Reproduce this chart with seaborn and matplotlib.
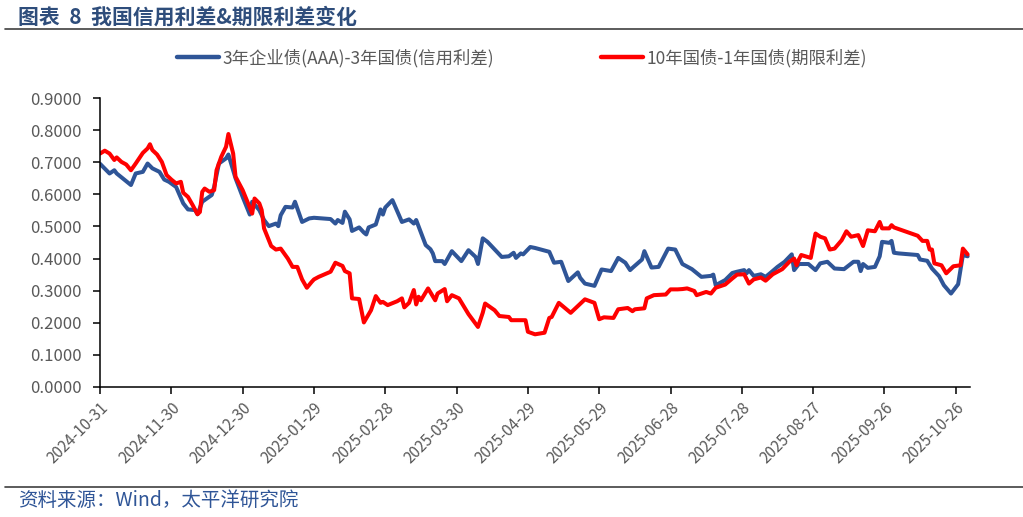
import pandas as pd
import seaborn as sns
import matplotlib.pyplot as plt
from matplotlib.lines import Line2D

# credit spread: 3y AAA corporate - 3y treasury
CREDIT_DATES = [
    "2024-10-31", "2024-11-04", "2024-11-06", "2024-11-07", "2024-11-13", "2024-11-15",
    "2024-11-18", "2024-11-20", "2024-11-22", "2024-11-25", "2024-11-27", "2024-11-29",
    "2024-12-02", "2024-12-05", "2024-12-07", "2024-12-10", "2024-12-11", "2024-12-13",
    "2024-12-17", "2024-12-18", "2024-12-20", "2024-12-23", "2024-12-24", "2024-12-27",
    "2024-12-30", "2025-01-02", "2025-01-03", "2025-01-06", "2025-01-08", "2025-01-10",
    "2025-01-13", "2025-01-14", "2025-01-15", "2025-01-17", "2025-01-20", "2025-01-21",
    "2025-01-22", "2025-01-24", "2025-01-27", "2025-01-29", "2025-02-05", "2025-02-07",
    "2025-02-08", "2025-02-10", "2025-02-11", "2025-02-13", "2025-02-14", "2025-02-17",
    "2025-02-19", "2025-02-20", "2025-02-21", "2025-02-24", "2025-02-26", "2025-02-27",
    "2025-02-28", "2025-03-03", "2025-03-07", "2025-03-10", "2025-03-12", "2025-03-13",
    "2025-03-17", "2025-03-19", "2025-03-20", "2025-03-21", "2025-03-24", "2025-03-25",
    "2025-03-28", "2025-04-01", "2025-04-04", "2025-04-07", "2025-04-08", "2025-04-10",
    "2025-04-12", "2025-04-18", "2025-04-21", "2025-04-23", "2025-04-24", "2025-04-26",
    "2025-04-27", "2025-04-30", "2025-05-02", "2025-05-08", "2025-05-10", "2025-05-13",
    "2025-05-16", "2025-05-20", "2025-05-21", "2025-05-23", "2025-05-27", "2025-05-30",
    "2025-06-03", "2025-06-06", "2025-06-09", "2025-06-11", "2025-06-12", "2025-06-16",
    "2025-06-17", "2025-06-20", "2025-06-23", "2025-06-27", "2025-06-30", "2025-07-03",
    "2025-07-07", "2025-07-11", "2025-07-15", "2025-07-16", "2025-07-17", "2025-07-21",
    "2025-07-24", "2025-07-26", "2025-07-29", "2025-07-30", "2025-07-31", "2025-08-02",
    "2025-08-05", "2025-08-07", "2025-08-09", "2025-08-12", "2025-08-15", "2025-08-18",
    "2025-08-19", "2025-08-21", "2025-08-25", "2025-08-28", "2025-08-30", "2025-09-02",
    "2025-09-05", "2025-09-09", "2025-09-13", "2025-09-15", "2025-09-16", "2025-09-17",
    "2025-09-19", "2025-09-22", "2025-09-24", "2025-09-25", "2025-09-28", "2025-09-29",
    "2025-09-30", "2025-10-02", "2025-10-10", "2025-10-11", "2025-10-14", "2025-10-16",
    "2025-10-19", "2025-10-21", "2025-10-24", "2025-10-27", "2025-10-29", "2025-10-31",
]
CREDIT_VALUES = [
    0.695, 0.665, 0.675, 0.665, 0.629, 0.665,
    0.670, 0.696, 0.681, 0.670, 0.646, 0.639,
    0.623, 0.572, 0.553, 0.551, 0.538, 0.577,
    0.598, 0.623, 0.696, 0.712, 0.724, 0.650,
    0.592, 0.537, 0.577, 0.551, 0.520, 0.501,
    0.509, 0.501, 0.535, 0.561, 0.559, 0.577,
    0.556, 0.514, 0.525, 0.527, 0.523, 0.509,
    0.520, 0.511, 0.546, 0.522, 0.486, 0.497,
    0.481, 0.475, 0.497, 0.506, 0.553, 0.537,
    0.559, 0.582, 0.514, 0.522, 0.509, 0.520,
    0.442, 0.429, 0.416, 0.392, 0.392, 0.383,
    0.423, 0.392, 0.426, 0.405, 0.383, 0.463,
    0.452, 0.405, 0.407, 0.418, 0.402, 0.416,
    0.413, 0.436, 0.433, 0.421, 0.387, 0.390,
    0.330, 0.357, 0.340, 0.322, 0.315, 0.366,
    0.361, 0.402, 0.387, 0.364, 0.371, 0.397,
    0.423, 0.372, 0.374, 0.431, 0.428, 0.383,
    0.367, 0.343, 0.346, 0.350, 0.317, 0.333,
    0.355, 0.359, 0.364, 0.354, 0.364, 0.346,
    0.351, 0.343, 0.355, 0.374, 0.390, 0.413,
    0.364, 0.383, 0.383, 0.364, 0.385, 0.390,
    0.369, 0.367, 0.390, 0.390, 0.361, 0.383,
    0.371, 0.374, 0.407, 0.452, 0.449, 0.455,
    0.418, 0.416, 0.411, 0.397, 0.393, 0.369,
    0.345, 0.317, 0.291, 0.320, 0.411, 0.407,
]

# term spread: 10y treasury - 1y treasury
TERM_DATES = [
    "2024-10-31", "2024-11-02", "2024-11-04", "2024-11-06", "2024-11-07", "2024-11-09",
    "2024-11-11", "2024-11-13", "2024-11-15", "2024-11-18", "2024-11-20", "2024-11-21",
    "2024-11-22", "2024-11-24", "2024-11-26", "2024-11-28", "2024-11-30", "2024-12-02",
    "2024-12-04", "2024-12-05", "2024-12-07", "2024-12-09", "2024-12-11", "2024-12-12",
    "2024-12-13", "2024-12-14", "2024-12-16", "2024-12-18", "2024-12-19", "2024-12-21",
    "2024-12-23", "2024-12-24", "2024-12-26", "2024-12-27", "2024-12-30", "2025-01-01",
    "2025-01-03", "2025-01-04", "2025-01-06", "2025-01-07", "2025-01-08", "2025-01-11",
    "2025-01-13", "2025-01-15", "2025-01-18", "2025-01-20", "2025-01-22", "2025-01-24",
    "2025-01-26", "2025-01-28", "2025-01-29", "2025-01-31", "2025-02-05", "2025-02-07",
    "2025-02-10", "2025-02-11", "2025-02-13", "2025-02-14", "2025-02-17", "2025-02-19",
    "2025-02-22", "2025-02-24", "2025-02-26", "2025-02-27", "2025-03-01", "2025-03-05",
    "2025-03-07", "2025-03-08", "2025-03-10", "2025-03-12", "2025-03-13", "2025-03-14",
    "2025-03-15", "2025-03-18", "2025-03-21", "2025-03-22", "2025-03-25", "2025-03-26",
    "2025-03-28", "2025-03-31", "2025-04-04", "2025-04-08", "2025-04-10", "2025-04-11",
    "2025-04-15", "2025-04-17", "2025-04-21", "2025-04-22", "2025-04-28", "2025-04-29",
    "2025-05-02", "2025-05-06", "2025-05-08", "2025-05-09", "2025-05-12", "2025-05-17",
    "2025-05-20", "2025-05-23", "2025-05-27", "2025-05-29", "2025-05-31", "2025-06-04",
    "2025-06-06", "2025-06-10", "2025-06-12", "2025-06-13", "2025-06-17", "2025-06-18",
    "2025-06-21", "2025-06-26", "2025-06-28", "2025-07-01", "2025-07-03", "2025-07-05",
    "2025-07-08", "2025-07-09", "2025-07-13", "2025-07-15", "2025-07-17", "2025-07-21",
    "2025-07-24", "2025-07-26", "2025-07-29", "2025-07-31", "2025-08-02", "2025-08-05",
    "2025-08-07", "2025-08-10", "2025-08-14", "2025-08-17", "2025-08-19", "2025-08-20",
    "2025-08-21", "2025-08-22", "2025-08-26", "2025-08-28", "2025-08-30", "2025-09-01",
    "2025-09-03", "2025-09-05", "2025-09-08", "2025-09-10", "2025-09-12", "2025-09-15",
    "2025-09-17", "2025-09-19", "2025-09-22", "2025-09-24", "2025-09-25", "2025-09-28",
    "2025-09-29", "2025-09-30", "2025-10-10", "2025-10-12", "2025-10-14", "2025-10-15",
    "2025-10-16", "2025-10-17", "2025-10-20", "2025-10-22", "2025-10-25", "2025-10-28",
    "2025-10-29", "2025-10-31",
]
TERM_VALUES = [
    0.727, 0.736, 0.727, 0.707, 0.715, 0.701,
    0.693, 0.675, 0.696, 0.729, 0.743, 0.756,
    0.738, 0.724, 0.701, 0.660, 0.646, 0.634,
    0.639, 0.605, 0.592, 0.566, 0.538, 0.545,
    0.608, 0.618, 0.608, 0.613, 0.675, 0.717,
    0.748, 0.788, 0.727, 0.655, 0.613, 0.577,
    0.540, 0.587, 0.572, 0.551, 0.494, 0.439,
    0.428, 0.431, 0.400, 0.374, 0.374, 0.335,
    0.309, 0.327, 0.335, 0.343, 0.359, 0.387,
    0.377, 0.361, 0.354, 0.276, 0.274, 0.201,
    0.239, 0.283, 0.262, 0.265, 0.255, 0.267,
    0.276, 0.248, 0.262, 0.302, 0.257, 0.281,
    0.270, 0.307, 0.270, 0.291, 0.305, 0.267,
    0.286, 0.276, 0.227, 0.187, 0.231, 0.260,
    0.239, 0.221, 0.218, 0.208, 0.208, 0.172,
    0.164, 0.169, 0.215, 0.218, 0.262, 0.231,
    0.252, 0.273, 0.262, 0.211, 0.217, 0.215,
    0.242, 0.246, 0.236, 0.242, 0.245, 0.276,
    0.286, 0.288, 0.304, 0.304, 0.305, 0.307,
    0.299, 0.286, 0.296, 0.291, 0.309, 0.319,
    0.338, 0.350, 0.351, 0.322, 0.335, 0.341,
    0.331, 0.351, 0.367, 0.390, 0.400, 0.379,
    0.397, 0.411, 0.402, 0.478, 0.468, 0.463,
    0.428, 0.431, 0.457, 0.485, 0.468, 0.473,
    0.439, 0.488, 0.485, 0.514, 0.494, 0.494,
    0.504, 0.497, 0.471, 0.455, 0.455, 0.428,
    0.428, 0.385, 0.379, 0.354, 0.376, 0.379,
    0.431, 0.413,
]

SERIES_NAMES = ["3年企业债(AAA)-3年国债(信用利差)", "10年国债-1年国债(期限利差)"]
SERIES_COLORS = ["#2F5597", "#FF0000"]
TICK_DATES = [
    "2024-10-31", "2024-11-30", "2024-12-30", "2025-01-29", "2025-02-28", "2025-03-30",
    "2025-04-29", "2025-05-29", "2025-06-28", "2025-07-28", "2025-08-27", "2025-09-26",
    "2025-10-26",
]
Y_TICKS = [0.0, 0.1, 0.2, 0.3, 0.4, 0.5, 0.6, 0.7, 0.8, 0.9]
TITLE = "图表  8  我国信用利差&期限利差变化"
SOURCE = "资料来源：Wind，太平洋研究院"

sns.set_style("white")
plt.rcParams['font.family'] = ['Noto Sans CJK SC', 'DejaVu Sans']

df = pd.concat([
    pd.DataFrame({"date": pd.to_datetime(CREDIT_DATES), "value": CREDIT_VALUES, "series": SERIES_NAMES[0]}),
    pd.DataFrame({"date": pd.to_datetime(TERM_DATES), "value": TERM_VALUES, "series": SERIES_NAMES[1]}),
], ignore_index=True)

fig = plt.figure(figsize=(10.23, 5.17), dpi=100)
ax = fig.add_axes([0.0978, 0.2515, 0.8504, 0.5589])

sns.lineplot(data=df, x="date", y="value", hue="series", hue_order=SERIES_NAMES,
             palette=dict(zip(SERIES_NAMES, SERIES_COLORS)), linewidth=2.9,
             estimator=None, sort=True, legend=False, ax=ax)

ax.set_xlim(pd.Timestamp("2024-10-31"), pd.Timestamp("2025-11-01"))
ax.set_ylim(0, 0.9)
ax.set_yticks(Y_TICKS)
ax.set_yticklabels(["%.4f" % v for v in Y_TICKS])
ax.set_xticks(pd.to_datetime(TICK_DATES))
ax.set_xticklabels(TICK_DATES, rotation=45, ha="right", rotation_mode="anchor")
ax.set_xlabel("")
ax.set_ylabel("")

for side in ["top", "right"]:
    ax.spines[side].set_visible(False)
for side in ["left", "bottom"]:
    ax.spines[side].set_color("#000000")
    ax.spines[side].set_linewidth(1.1)
ax.tick_params(axis="both", direction="out", length=5, width=1.1, color="#000000",
               labelcolor="#595959", labelsize=11, left=True, bottom=True)
ax.tick_params(axis="y", labelsize=12, pad=8)
ax.tick_params(axis="x", pad=4)

handles = [Line2D([], [], color=c, linewidth=3.2) for c in SERIES_COLORS]
ax.legend(handles, SERIES_NAMES, loc="center", bbox_to_anchor=(0.485, 1.138), ncol=2,
          frameon=False, fontsize=12.5, handlelength=2.4, handletextpad=0.2,
          columnspacing=6.2, labelcolor="#595959")

fig.text(18 / 1023, 1 - 17 / 517, TITLE, fontsize=15, fontweight="bold",
         color="#2E4D7B", va="center", ha="left")
fig.text(18 / 1023, 1 - 500 / 517, SOURCE, fontsize=14, color="#2F5597",
         va="center", ha="left")
fig.add_artist(Line2D([5 / 1023, 1], [1 - 29 / 517, 1 - 29 / 517],
                      transform=fig.transFigure, color="#404040", linewidth=1.2))
fig.add_artist(Line2D([5 / 1023, 1], [1 - 487 / 517, 1 - 487 / 517],
                      transform=fig.transFigure, color="#404040", linewidth=1.2))

fig.savefig("out.png", dpi=100)
plt.close()
